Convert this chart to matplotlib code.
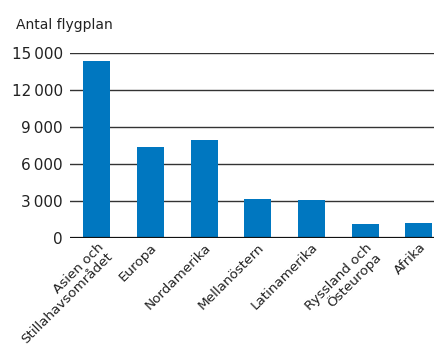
import matplotlib
matplotlib.use("Agg")
import matplotlib.pyplot as plt

regions = ["Asien och\nStillahavsområdet", "Europa", "Nordamerika", "Mellanöstern",
           "Latinamerika", "Ryssland och\nÖsteuropa", "Afrika"]
planes = [14350, 7350, 7900, 3200, 3050, 1130, 1210]
yticks = [0, 3000, 6000, 9000, 12000, 15000]
ytick_labels = ["0", "3\u2009000", "6\u2009000", "9\u2009000", "12\u2009000", "15\u2009000"]

plt.rcParams['font.family'] = ['DejaVu Sans']

fig = plt.figure(figsize=(4.35, 3.5), dpi=100)
ax = fig.add_axes([0.161, 0.32, 0.839, 0.529])

x = range(len(regions))
ax.bar(x, planes, width=0.5, color="#0077c0", zorder=3)

for t in yticks[1:]:
    ax.axhline(t, color="#333333", lw=1.0, zorder=1)
ax.axhline(0, color="#111111", lw=1.6, zorder=4)

ax.set_ylim(0, 15000)
ax.set_xlim(-0.5, 6.3)
ax.set_yticks(yticks)
ax.set_yticklabels(ytick_labels, fontsize=11, color="#222222")
ax.set_xticks(list(x))
ax.set_xticklabels(regions, rotation=45, ha="right", rotation_mode="anchor",
                   multialignment="right", fontsize=9.7, color="#222222",
                   linespacing=1.0)
ax.tick_params(axis="both", length=0)
ax.tick_params(axis="y", pad=5)
ax.tick_params(axis="x", pad=2)
for s in ax.spines.values():
    s.set_visible(False)

fig.text(0.037, 0.93, "Antal flygplan", fontsize=10, color="#222222", va="center")

fig.savefig("out.png", dpi=100)
